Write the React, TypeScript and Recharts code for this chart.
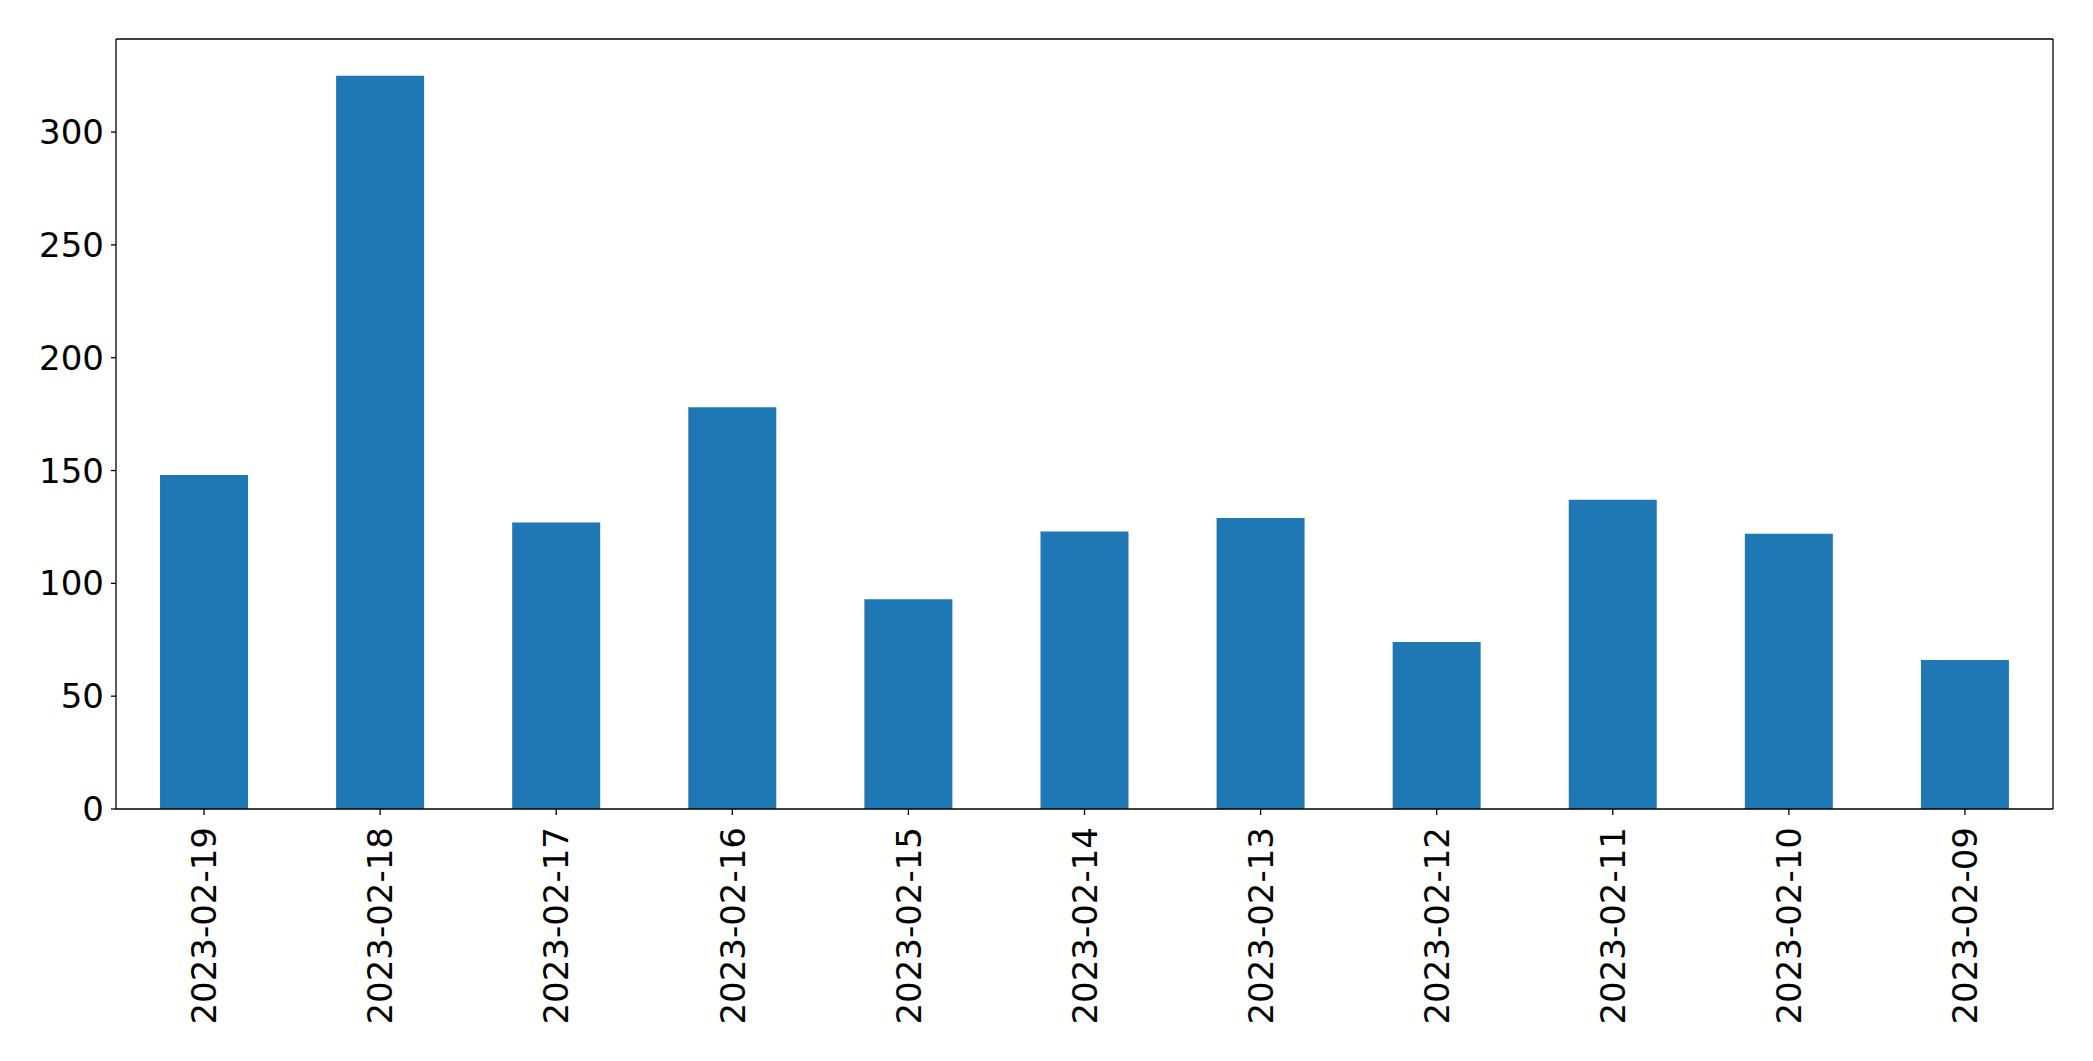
import { BarChart, Bar, XAxis, YAxis } from 'recharts';

const dates = [
  '2023-02-19', '2023-02-18', '2023-02-17', '2023-02-16', '2023-02-15', '2023-02-14',
  '2023-02-13', '2023-02-12', '2023-02-11', '2023-02-10', '2023-02-09',
];
const counts = [148, 325, 127, 178, 93, 123, 129, 74, 137, 122, 66];
const yTicks = [0, 50, 100, 150, 200, 250, 300];

const data = dates.map((date, i) => ({ date, count: counts[i] }));

const FONT = '"DejaVu Sans", sans-serif';
const FS = 34;

const DateTick = (props: any) => {
  const { x, y, payload } = props;
  return (
    <text
      x={x}
      y={y}
      transform={`rotate(-90, ${x}, ${y})`}
      textAnchor="end"
      dy="0.36em"
      fontSize={FS}
      fontFamily={FONT}
      fill="#000"
    >
      {payload.value}
    </text>
  );
};

export default function App() {
  return (
    <div style={{ position: 'absolute', left: 0, top: 0, background: '#fff' }}>
      <BarChart
        width={2093}
        height={1061}
        data={data}
        margin={{ top: 38, right: 39, left: 0, bottom: 0 }}
        barCategoryGap="25%"
      >
        <XAxis
          dataKey="date"
          interval={0}
          height={252}
          axisLine={{ stroke: '#000', strokeWidth: 1.3 }}
          tickLine={{ stroke: '#000', strokeWidth: 1.3 }}
          tickSize={6}
          tickMargin={12}
          tick={<DateTick />}
        />
        <XAxis
          xAxisId="top"
          dataKey="date"
          orientation="top"
          height={1}
          tick={false}
          tickLine={false}
          axisLine={{ stroke: '#000', strokeWidth: 1.3 }}
        />
        <YAxis
          width={116}
          domain={[0, 341.25]}
          ticks={yTicks}
          allowDataOverflow
          interval={0}
          axisLine={{ stroke: '#000', strokeWidth: 1.3 }}
          tickLine={{ stroke: '#000', strokeWidth: 1.3 }}
          tickSize={5}
          tickMargin={7}
          tick={{ fontSize: FS, fontFamily: FONT, fill: '#000' }}
        />
        <YAxis
          yAxisId="right"
          orientation="right"
          width={1}
          domain={[0, 341.25]}
          tick={false}
          tickLine={false}
          axisLine={{ stroke: '#000', strokeWidth: 1.3 }}
        />
        <Bar dataKey="count" fill="#1f77b4" isAnimationActive={false} />
      </BarChart>
    </div>
  );
}
